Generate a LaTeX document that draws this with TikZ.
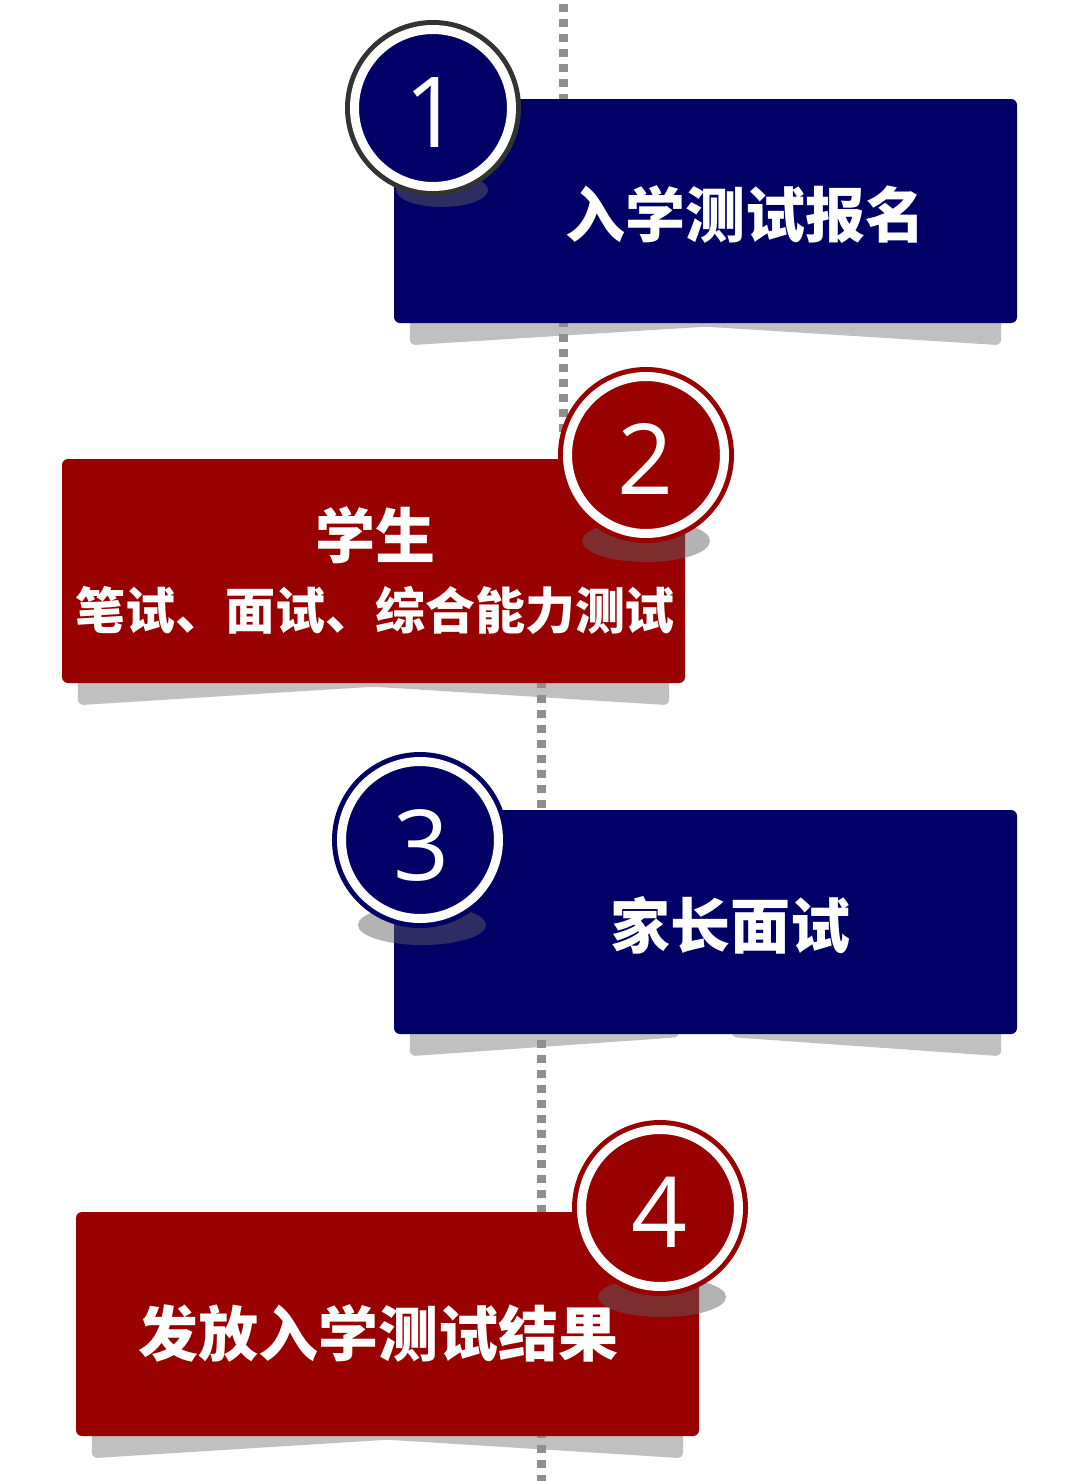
\documentclass[tikz,border=0pt]{standalone}
\usepackage{fontspec}
\setmainfont{Open Sans}
\newfontfamily\cjk{Noto Sans CJK SC}
\usepackage{tikz}
\usetikzlibrary{calc,backgrounds}

\definecolor{navyfill}{HTML}{000066}
\definecolor{redfill}{HTML}{990000}
\definecolor{ringgray}{HTML}{333333}
\definecolor{dotgray}{HTML}{8F8F8F}
\definecolor{paneshadow}{HTML}{C0C0C0}
\definecolor{ovalshadow}{HTML}{606060}

\begin{document}
\begin{tikzpicture}[x=1pt,y=-1pt,
    stepbox/.style={rectangle,rounded corners=6pt,minimum width=623pt,minimum height=224pt,inner sep=0pt,fill=#1},
    numdisc/.style 2 args={circle,minimum size=157pt,inner sep=0pt,fill=#1,draw=white,line width=9pt,
        preaction={draw=#2,line width=19pt}},
    digit/.style={text=white,inner sep=0pt,font=\fontsize{98}{100}\selectfont},
    tag/.style={text=white,inner sep=0pt,font=\cjk\bfseries\fontsize{#1}{#1}\selectfont},
    tag/.default=60,
    dotline/.style={dotgray,line width=9pt,dash pattern=on 8pt off 7pt},
    oval/.style={fill=ovalshadow,fill opacity=0.48}]
    \useasboundingbox (0,0) rectangle (1080,1481);

    % steps
    \node[stepbox=navyfill] (box1) at (705.5,211) {};
    \node[stepbox=redfill] (box2) at (373.5,571) {};
    \node[stepbox=navyfill] (box3) at (705.5,922) {};
    \node[stepbox=redfill] (box4) at (387.5,1324) {};

    \node[tag] (t1) at (745,215) {入学测试报名};
    \node[tag] (t2a) at (375,535) {学生};
    \node[tag=50] (t2b) at (375,610) {笔试、面试、综合能力测试};
    \node[tag] (t3) at (730,925) {家长面试};
    \node[tag] (t4) at (378,1333) {发放入学测试结果};

    % shadows and timeline
    \begin{scope}[on background layer]
        \foreach \b/\g in {box1/-8,box2/-8,box3/26,box4/-8}{
            \fill[paneshadow,rounded corners=6pt] ($(\b.south west)+(16,-30)$) -- ($(\b.south west)+(16,22)$)
                -- ($(\b.south)+(-\g,3)$) -- ($(\b.south)+(-\g,-30)$) -- cycle;
            \fill[paneshadow,rounded corners=6pt] ($(\b.south east)+(-16,-30)$) -- ($(\b.south east)+(-16,22)$)
                -- ($(\b.south)+(\g,3)$) -- ($(\b.south)+(\g,-30)$) -- cycle;
        }
        \coordinate (top) at (563,4);
        \coordinate (bend) at (563,560);
        \coordinate (bend2) at (541,560);
        \coordinate (bottom) at (541,1481);
        \draw[dotline] (top) -- (bend);
        \draw[dotline] (bend2) -- (bottom);
    \end{scope}

    % numbers
    \fill[oval] (442,190) ellipse (46 and 17);
    \fill[oval] (646,541) ellipse (64 and 21);
    \fill[oval] (422,925) ellipse (64 and 20);
    \fill[oval] (662,1297) ellipse (64 and 20);

    \node[numdisc={navyfill}{ringgray}] (c1) at (433,108) {};
    \node[numdisc={redfill}{redfill}] (c2) at (646,455) {};
    \node[numdisc={navyfill}{navyfill}] (c3) at (420,840) {};
    \node[numdisc={redfill}{redfill}] (c4) at (660,1208) {};

    \node[digit] (n1) at ($(c1)+(0,5)$) {1};
    \node[digit] (n2) at ($(c2)+(0,4)$) {2};
    \node[digit] (n3) at ($(c3)+(2,5)$) {3};
    \node[digit] (n4) at ($(c4)+(0,4)$) {4};
\end{tikzpicture}
\end{document}
